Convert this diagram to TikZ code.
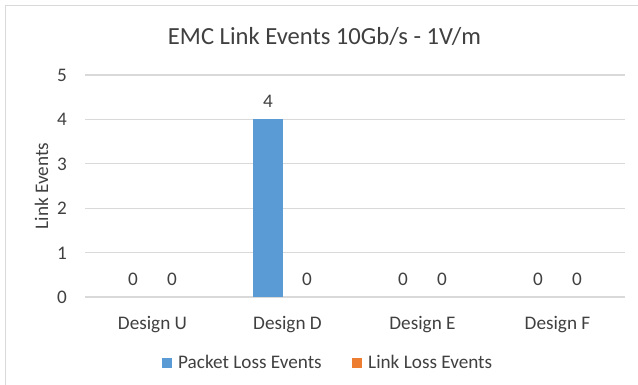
\documentclass[tikz,border=0pt]{standalone}
\usepackage{fontspec}
\setmainfont{Carlito}

\definecolor{pktblue}{HTML}{5B9BD5}
\definecolor{lnkorange}{HTML}{ED7D31}
\definecolor{gridgray}{HTML}{D9D9D9}
\definecolor{txtgray}{HTML}{404040}

\begin{document}
\begin{tikzpicture}[
    x = 1pt, y = -1pt,
    % y runs downwards, like the pixels of the screenshot
    font = \fontsize{19.2}{19.2}\selectfont,
    text = txtgray,
    gridline/.style = {draw = gridgray, line width = 1.2pt},
    frameline/.style = {draw = gridgray, line width = 1pt},
    barbox/.style = {fill = #1, draw = none},
    lbl/.style = {anchor = base, inner sep = 0pt},
    keybox/.style = {fill = #1, draw = none, minimum size = 10pt, inner sep = 0pt},
    ]

    \def\ybase{297}   % y of the value 0
    \def\yunit{44.4}  % one event
    \def\xleft{85}
    \def\xright{625}
    \def\catw{135}    % width of one category

    \useasboundingbox (0,0) rectangle (638,385);

    % chart frame (only left and top edges are inside the picture)
    \draw[frameline] (5,390) -- (5,6) -- (645,6);

    % title
    \node[lbl, font = \fontsize{24.6}{24.6}\selectfont] (title) at (324.5,45) {EMC Link Events 10Gb/s - 1V/m};

    % grid and y ticks
    \foreach \v in {0,...,5}{
        \draw[gridline] (\xleft,\ybase-\yunit*\v) -- (\xright,\ybase-\yunit*\v);
        \node[lbl, anchor = base east] (tick\v) at (67,\ybase-\yunit*\v+6.5) {\v};
    }

    % y axis title
    \node[lbl, rotate = 90] (ytitle) at (48,186) {Link Events};

    % bars: packet loss (blue) and link loss (orange), zero bars are not drawn
    \foreach \cat/\pkt/\lnk [count=\i from 0] in {Design U/0/0, Design D/4/0, Design E/0/0, Design F/0/0}{
        \pgfmathsetmacro{\cx}{\xleft+\catw*(\i+0.5)}
        \ifnum\pkt>0 \fill[barbox = pktblue] (\cx-34.5,\ybase) rectangle (\cx-4.5,\ybase-\yunit*\pkt); \fi
        \ifnum\lnk>0 \fill[barbox = lnkorange] (\cx+4.5,\ybase) rectangle (\cx+34.5,\ybase-\yunit*\lnk); \fi
        \node[lbl] (pval\i) at (\cx-19.5,\ybase-\yunit*\pkt-11.5) {\pkt};
        \node[lbl] (lval\i) at (\cx+19.5,\ybase-\yunit*\lnk-11.5) {\lnk};
        \node[lbl] (cat\i) at (\cx,329) {\cat};
    }

    % legend
    \node[keybox = pktblue] (keypkt) at (167,363) {};
    \node[lbl, anchor = base west] (txtpkt) at (178,368) {Packet Loss Events};
    \node[keybox = lnkorange] (keylnk) at (357,363) {};
    \node[lbl, anchor = base west] (txtlnk) at (368,368) {Link Loss Events};

\end{tikzpicture}
\end{document}
